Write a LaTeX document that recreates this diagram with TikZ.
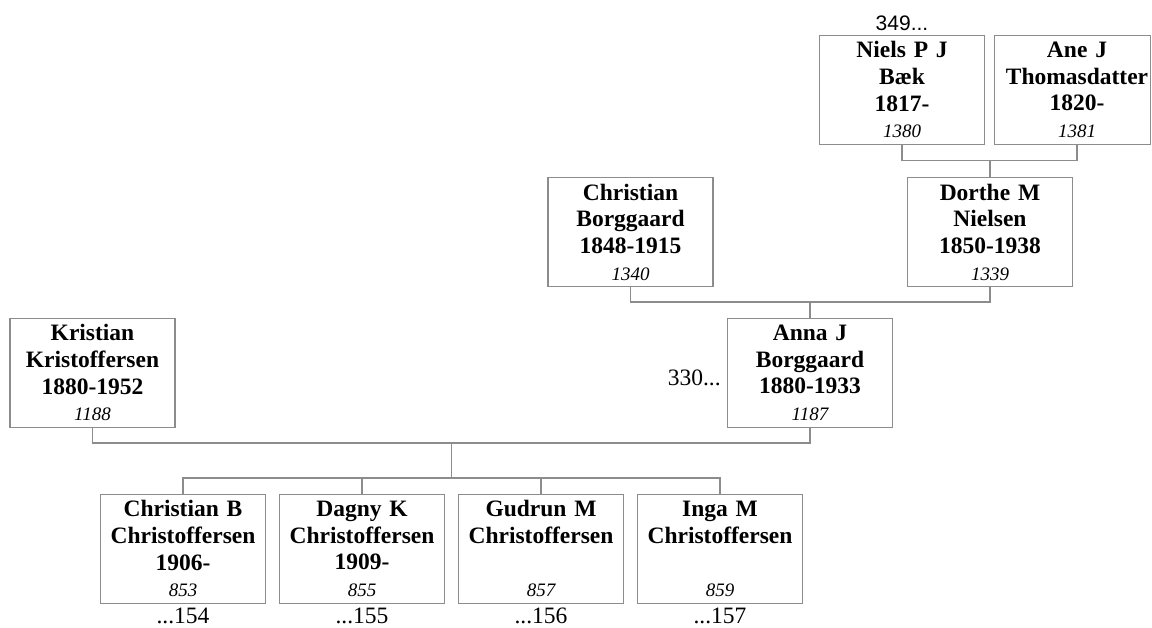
\documentclass[tikz,border=0pt]{standalone}
\usepackage{fontspec}
\setmainfont{Liberation Serif}
\newfontfamily\lsans{Liberation Sans}
\definecolor{boxc}{RGB}{140,140,140}
\newcommand\pnum[1]{{\normalfont\itshape\fontsize{19}{26.7}\selectfont #1}}
\tikzset{
  pbox/.style={draw=boxc, line width=1.2pt, text width=165pt, inner sep=0pt,
    minimum height=109pt, align=center,
    font=\bfseries\fontsize{23.5}{26.7}\selectfont},
  conn/.style={draw=boxc, line width=1.2pt},
  lbl/.style={font=\fontsize{23.5}{26}\selectfont, inner sep=0pt}
}
\begin{document}
\begin{tikzpicture}[x=1pt,y=-1pt]
\useasboundingbox (0,0) rectangle (1152,628);
% row 1
\node[pbox] (niels) at (902,89.8) {Niels P J\\Bæk\\1817-\\\pnum{1380}};
\node[pbox, text width=156pt] (ane) at (1072.5,89.8) {\hspace*{9pt}Ane J\\\hspace*{9pt}Thomasdatter\\\hspace*{9pt}1820-\\\hspace*{9pt}\pnum{1381}};
% row 2
\node[pbox] (chb) at (630.5,232) {Christian\\Borggaard\\1848-1915\\\pnum{1340}};
\node[pbox] (dor) at (990,232) {Dorthe M\\Nielsen\\1850-1938\\\pnum{1339}};
% row 3
\node[pbox] (kri) at (92.5,372.8) {Kristian\\Kristoffersen\\1880-1952\\\pnum{1188}};
\node[pbox] (ann) at (810,372.8) {Anna J\\Borggaard\\1880-1933\\\pnum{1187}};
% row 4
\node[pbox] (c1) at (183,548.8) {Christian B\\Christoffersen\\1906-\\\pnum{853}};
\node[pbox] (c2) at (362,548.8) {Dagny K\\Christoffersen\\1909-\\\pnum{855}};
\node[pbox] (c3) at (541,548.8) {Gudrun M\\Christoffersen\\\mbox{}\\\pnum{857}};
\node[pbox] (c4) at (720,548.8) {Inga M\\Christoffersen\\\mbox{}\\\pnum{859}};
% labels
\node[lbl, font=\lsans\fontsize{21}{24}\selectfont, anchor=base] (l349) at ([yshift=4.5pt]niels.north) {349...};
\node[lbl, anchor=base east] (l330) at ([xshift=-6pt,yshift=-13pt]ann.west) {330...};
\node[lbl, anchor=base] (l154) at ([yshift=-20pt]c1.south) {...154};
\node[lbl, anchor=base] (l155) at ([yshift=-20pt]c2.south) {...155};
\node[lbl, anchor=base] (l156) at ([yshift=-20pt]c3.south) {...156};
\node[lbl, anchor=base] (l157) at ([yshift=-20pt]c4.south) {...157};
% connectors
\coordinate (m1) at (990,160.5);
\draw[conn] (niels.south) |- (m1) -| ([xshift=4.5pt]ane.south);
\draw[conn] (m1) -- (dor.north);
\coordinate (m2) at (810,302);
\draw[conn] (chb.south) |- (m2) -| (dor.south);
\draw[conn] (m2) -- (ann.north);
\coordinate (m3) at (451.7,443);
\draw[conn] (kri.south) |- (m3) -| (ann.south);
\coordinate (m4) at (451.7,478);
\draw[conn] (m3) -- (m4);
\draw[conn] (c1.north) |- (m4) -| (c4.north);
\draw[conn] (c2.north) -- (c2.north |- m4);
\draw[conn] (c3.north) -- (c3.north |- m4);
\end{tikzpicture}
\end{document}
